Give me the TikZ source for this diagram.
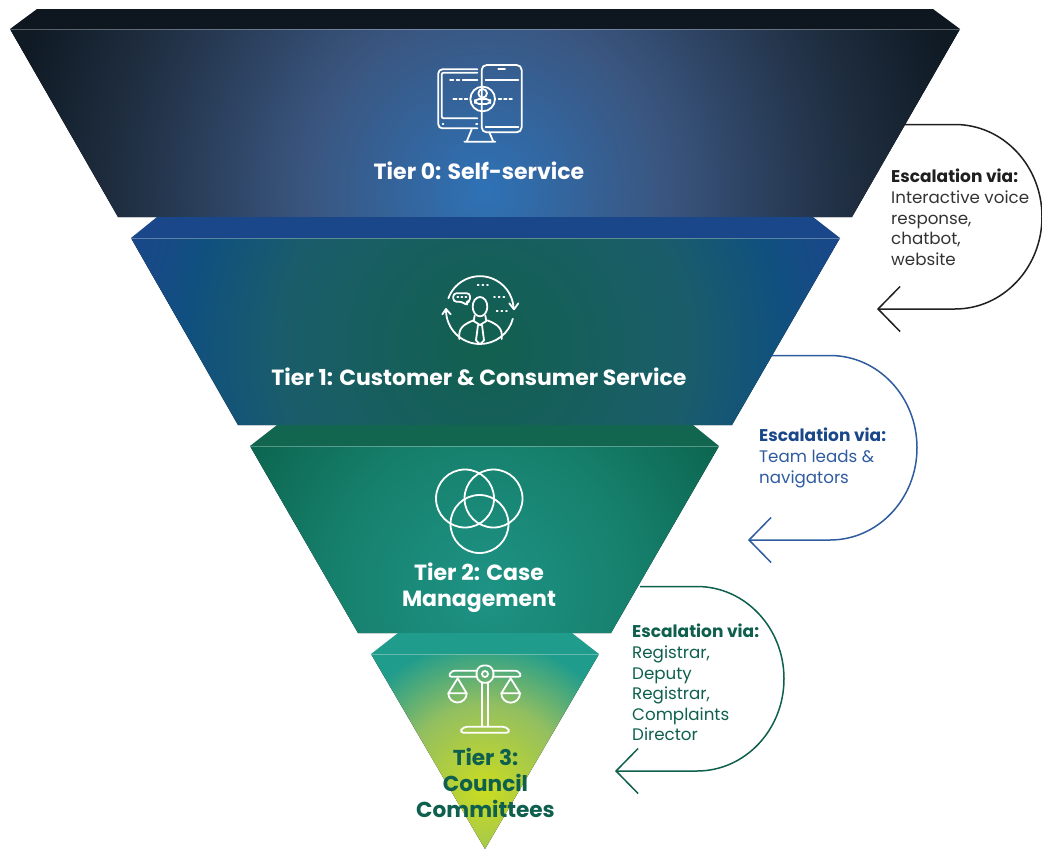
\documentclass[tikz,border=0pt]{standalone}
\usepackage{fontspec}
\setmainfont{Poppins}
\usetikzlibrary{arrows.meta}
\definecolor{bandA}{HTML}{0E1720}
\definecolor{bandB}{HTML}{1A4789}
\definecolor{bandC}{HTML}{12664F}
\definecolor{bandD}{HTML}{209C8C}
\definecolor{inkK}{HTML}{1F1F1F}
\definecolor{inkKl}{HTML}{333333}
\definecolor{inkB}{HTML}{1A4789}
\definecolor{lineB}{HTML}{2F5B9F}
\definecolor{inkG}{HTML}{0E5F4D}
\definecolor{a0}{HTML}{2E72B6}\definecolor{a1}{HTML}{3A5680}\definecolor{a2}{HTML}{202F42}\definecolor{a3}{HTML}{0F1A24}
\definecolor{b0}{HTML}{12604F}\definecolor{b1}{HTML}{1A5D6A}\definecolor{b2}{HTML}{10507F}\definecolor{b3}{HTML}{1A4789}
\definecolor{c0}{HTML}{1E9385}\definecolor{c1}{HTML}{16806C}\definecolor{c2}{HTML}{0C6650}
\definecolor{d0}{HTML}{CBDC20}\definecolor{d1}{HTML}{93BF60}\definecolor{d2}{HTML}{209C8C}
\pgfdeclareradialshading{gradA}{\pgfpoint{0bp}{0bp}}{color(0bp)=(a0);color(8.5bp)=(a1);color(17.3bp)=(a2);color(23bp)=(a3);color(50bp)=(a3)}
\pgfdeclareradialshading{gradB}{\pgfpoint{0bp}{0bp}}{color(0bp)=(b0);color(13bp)=(b1);color(19bp)=(b2);color(23.5bp)=(b3);color(50bp)=(b3)}
\pgfdeclareradialshading{gradC}{\pgfpoint{0bp}{0bp}}{color(0bp)=(c0);color(13bp)=(c1);color(23.5bp)=(c2);color(50bp)=(c2)}
\pgfdeclareradialshading{gradD}{\pgfpoint{0bp}{0bp}}{color(0bp)=(d0);color(11.2bp)=(d1);color(19.7bp)=(d2);color(50bp)=(d2)}
\newcommand{\escbold}[1]{{\fontsize{17}{20.6}\selectfont\bfseries #1}}
\tikzset{
  x=1pt,y=-1pt,
  tiertitle/.style={font=\fontsize{22}{25.6}\selectfont\bfseries,align=center,text=white,inner sep=0pt},
  esc/.style={font=\fontsize{16.7}{20.6}\selectfont,align=left,anchor=north west,inner sep=0pt},
  loopline/.style={line width=1.5pt,-{Straight Barb[length=22pt,width=45pt,line width=1.5pt]}},
  icon/.style={draw=white,line width=1.8pt,line cap=round,line join=round},
  seam/.style={draw=white,opacity=.3,line width=.7pt},
}
\begin{document}
\begin{tikzpicture}
\useasboundingbox (0,0) rectangle (1042,849);
% tier 0
\fill[bandA] (37,9)--(933,9)--(960,29)--(10,29)--cycle;
\begin{scope}\clip (10,29)--(960,29)--(852,217)--(118,217)--cycle;
\fill[shading=gradA] (485,190) circle[radius=520];\end{scope}
\draw[seam] (10,29)--(960,29);
% tier 1
\fill[bandB] (157,217)--(813,217)--(840,238)--(131,238)--cycle;
\begin{scope}\clip (131,238)--(840,238)--(732,425)--(238,425)--cycle;
\fill[shading=gradB] (485,345) circle[radius=390];\end{scope}
\draw[seam] (131,238)--(840,238);
% tier 2
\fill[bandC] (277,425)--(693,425)--(719,446)--(250,446)--cycle;
\begin{scope}\clip (250,446)--(719,446)--(611,633)--(358,633)--cycle;
\fill[shading=gradC] (485,590) circle[radius=290];\end{scope}
\draw[seam] (250,446)--(719,446);
% tier 3
\fill[bandD] (398,633)--(572,633)--(599,654)--(371,654)--cycle;
\begin{scope}\clip (371,654)--(599,654)--(485,849)--cycle;
\fill[shading=gradD] (485,790) circle[radius=190];\end{scope}
\draw[seam] (371,654)--(599,654);
% titles
\node[tiertitle] (t0) at (479,171) {Tier 0: Self-service};
\node[tiertitle] (t1) at (479,377) {Tier 1: Customer \& Consumer Service};
\node[tiertitle] (t2) at (479,588) {Tier 2: Case\\Management};
\node[tiertitle,text=inkG,font=\fontsize{21.6}{25.6}\selectfont\bfseries] (t3) at (485.5,783) {Tier 3:\\Council\\Committees};
% escalation loops
\coordinate (s0) at (905,124.5); \coordinate (e0) at (877,309);
\coordinate (s1) at (772,355.5); \coordinate (e1) at (748,540);
\coordinate (s2) at (640,586.5); \coordinate (e2) at (615,771);
\draw[loopline,draw=inkK] (s0)--(955,124.5) arc[start angle=-90,end angle=90,x radius=87,y radius=92.25]--(e0);
\draw[loopline,draw=lineB] (s1)--(830,355.5) arc[start angle=-90,end angle=90,x radius=87,y radius=92.25]--(e1);
\draw[loopline,draw=inkG] (s2)--(697,586.5) arc[start angle=-90,end angle=90,x radius=87,y radius=92.25]--(e2);
\node[esc,text=inkKl] (n0) at (891,169) {\textcolor{inkK}{\escbold{Escalation via:}}\\Interactive voice\\response,\\chatbot,\\website};
\node[esc,text=lineB] (n1) at (759,428) {\textcolor{inkB}{\escbold{Escalation via:}}\\Team leads \&\\navigators};
\node[esc,text=inkG] (n2) at (632,624) {\escbold{Escalation via:}\\Registrar,\\Deputy\\Registrar,\\Complaints\\Director};
% icon 0
\begin{scope}[shift={(420,50)},scale=1/3]
\draw[icon,rounded corners=4pt] (172,58)--(55,58)--(55,235)--(172,235);
\draw[icon,rounded corners=2pt] (172,68)--(65,68)--(65,205)--(172,205);
\draw[icon] (68,222)--(70,222) (168,222)--(172,222);
\draw[icon,rounded corners=5pt] (185,45) rectangle (305,247);
\draw[icon] (235,57)--(255,57);
\draw[icon] (197,90)--(295,90);\draw[icon] (197,230)--(295,230);
\draw[icon] (90,90)--(100,90) (110,90)--(118,90) (128,90)--(172,90);
\draw[icon] (100,147)--(110,147) (118,147)--(126,147) (134,147)--(142,147);
\draw[icon] (236,147)--(244,147) (252,147)--(260,147) (268,147)--(276,147);
\draw[icon] (188,147) circle[radius=37];
\draw[icon] (188,130) circle[radius=13];
\draw[icon,rounded corners=4pt] (165,162)--(165,147)--(211,147)--(211,162)--cycle;
\draw[icon] (155,238)--(140,275) (208,247)--(220,275) (133,275)--(226,275);
\end{scope}
% icon 1
\begin{scope}[shift={(430,265)},scale=1/3]
\draw[icon] (55,100) arc[start angle=-160,end angle=-3,radius=101];
\draw[icon] (238,115)--(252,133)--(265,115);
\draw[icon] (48,135) arc[start angle=180,end angle=15,radius=102];
\draw[icon] (37,148)--(48,132)--(62,148);
% shoulders
\draw[icon] (88,222) .. controls (84,190) and (100,178) .. (131,166);
\draw[icon] (215,222) .. controls (219,190) and (203,178) .. (172,166);
% head
\draw[icon] (150,125) circle[x radius=22,y radius=29];
% collar and tie
\draw[icon] (134,152)--(131,168)--(150,180)--(169,168)--(166,152);
\draw[icon] (144,180)--(138,226)--(150,238)--(162,226)--(156,180);
% bubble
\draw[icon,rounded corners=3pt] (70,85)--(120,85)--(120,110)--(108,110)--(113,122)--(95,110)--(70,110)--cycle;
\draw[icon] (82,97)--(85,97) (94,97)--(97,97) (106,97)--(109,97);
\draw[icon] (143,60)--(146,60) (157,60)--(160,60) (171,60)--(174,60);
\draw[icon] (192,97)--(195,97) (206,97)--(209,97) (220,97)--(223,97);
\draw[icon] (200,137)--(203,137) (214,137)--(217,137) (228,137)--(231,137);
\end{scope}
% icon 2
\draw[icon] (465,498.5) circle[radius=29];
\draw[icon] (493.5,498.5) circle[radius=29];
\draw[icon] (479.5,524) circle[radius=29];
% icon 3
\begin{scope}[shift={(430,655)},scale=1/3]
\draw[icon,rounded corners=3pt] (140,47)--(65,47)--(55,65)--(140,65);
\draw[icon,rounded corners=3pt] (190,47)--(265,47)--(275,65)--(190,65);
\draw[icon,rounded corners=2pt] (165,30)--(185,36)--(192,57)--(185,78)--(165,85)--(145,78)--(138,57)--(145,36)--cycle;
\draw[icon] (165,57) circle[radius=9];
\draw[icon] (157,85)--(157,215) (175,85)--(175,215);
\draw[icon,rounded corners=4pt] (88,233)--(100,215)--(230,215)--(242,233)--cycle;
\draw[icon] (83,70)--(55,115)--(110,115)--cycle;
\draw[icon] (55,115) arc[start angle=180,end angle=0,radius=27.5];
\draw[icon] (242,70)--(214,115)--(270,115)--cycle;
\draw[icon] (214,115) arc[start angle=180,end angle=0,radius=28];
\end{scope}
\end{tikzpicture}
\end{document}
